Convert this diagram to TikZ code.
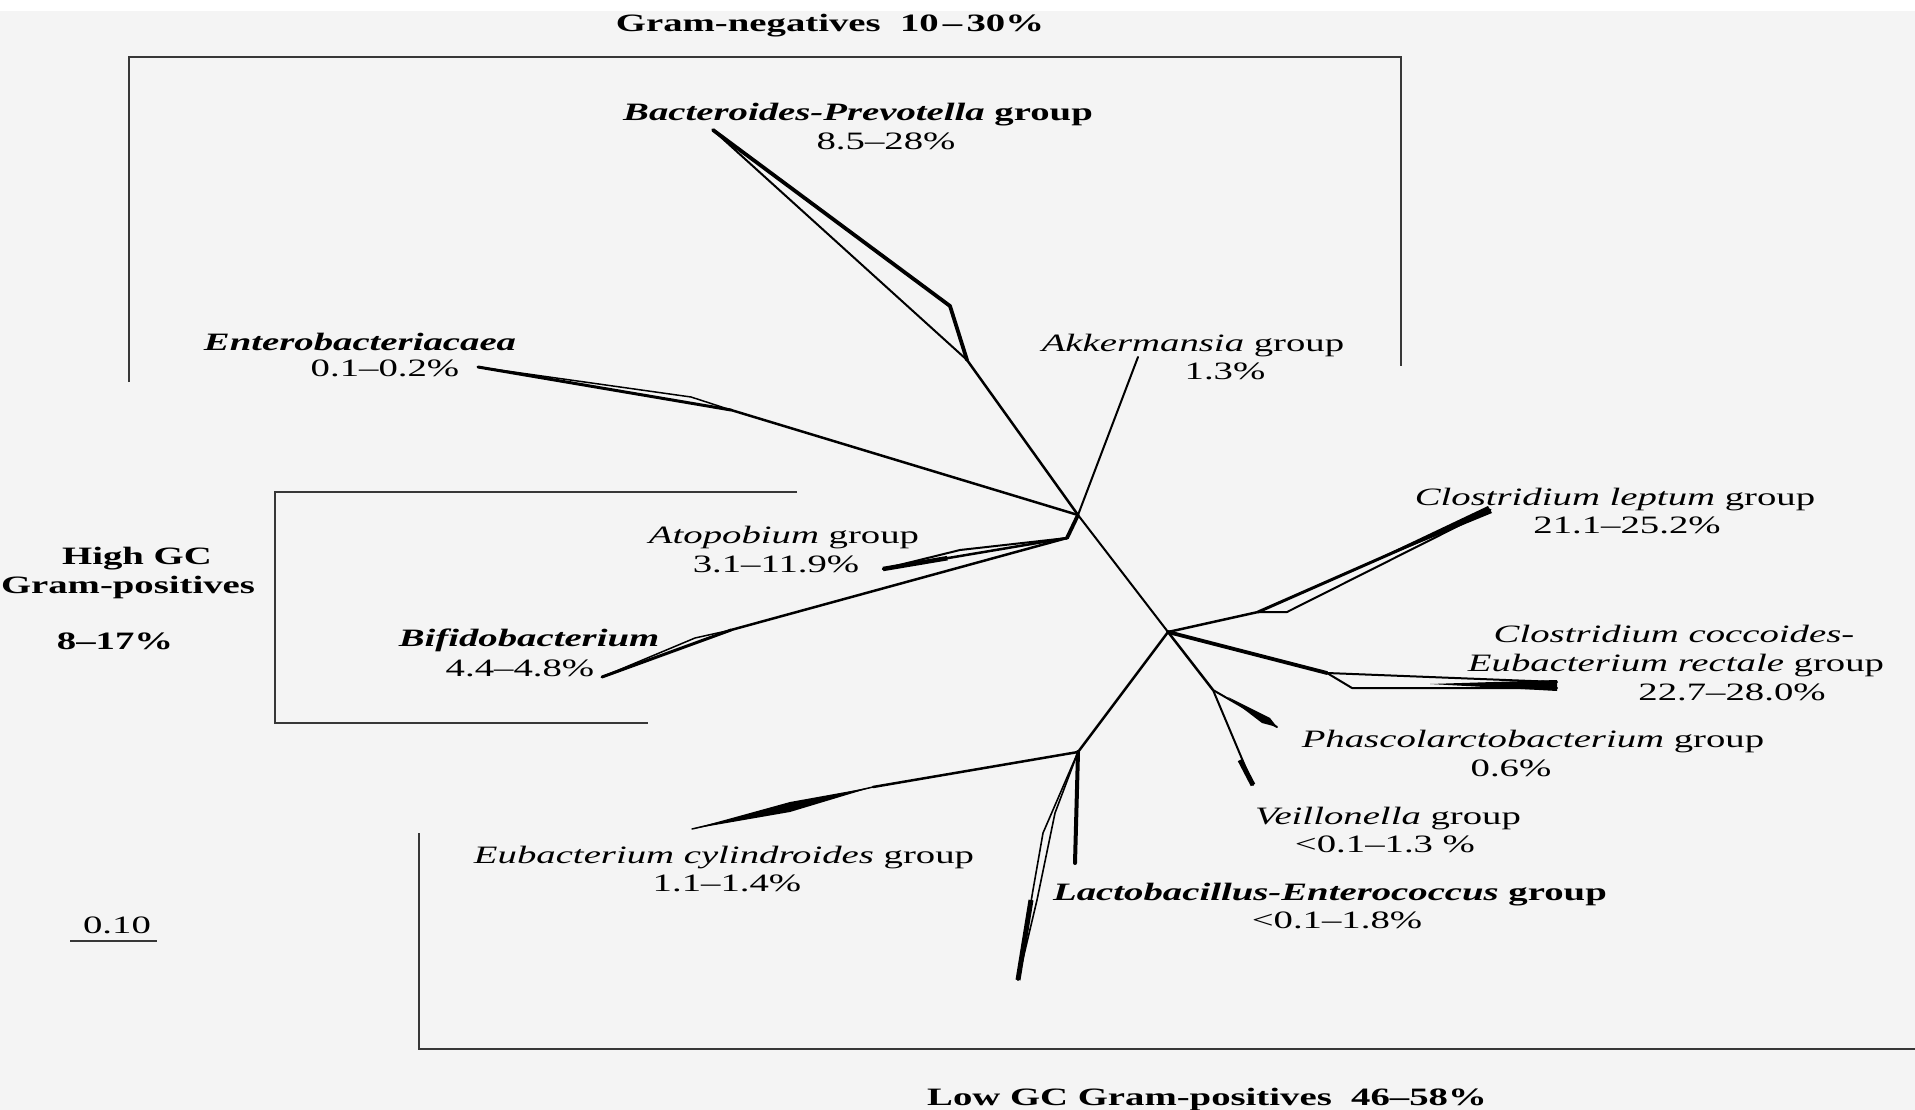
\documentclass[tikz,border=0pt]{standalone}
\usepackage{fontspec}
\setmainfont{Liberation Serif}[FakeStretch=1.55]
\usetikzlibrary{calc}
\definecolor{hgrund}{RGB}{244,244,244}
\definecolor{klammerfarbe}{RGB}{55,55,55}

\begin{document}
\begin{tikzpicture}[x=1pt,y=-1pt,
  lbl/.style={anchor=base,inner sep=0pt,font=\fontsize{25}{29}\selectfont},
  ast/.style={line width=2pt,line join=round,line cap=round},
  dick/.style={line width=3.8pt,line join=round,line cap=round},
  klammer/.style={draw=klammerfarbe,line width=2.4pt}]
  \useasboundingbox (0,0) rectangle (1915,1110);
  \fill[hgrund] (0,0) rectangle (1915,1110);
  \fill[white] (0,0) rectangle (1915,11);
  % Klammern
  \draw[klammer] (129,382) -- (129,57) -- (1401,57) -- (1401,366);
  \draw[klammer] (797,492) -- (275,492) -- (275,723) -- (648,723);
  \draw[klammer] (419,833) -- (419,1049) -- (1915,1049);
  % innere Knoten
  \coordinate (nA) at (1078,515);
  \coordinate (nB) at (1067,538);
  \coordinate (nC) at (1168,632);
  \coordinate (nD) at (1078,752);
  \coordinate (nE) at (1213,690);
  % Astspitzen
  \coordinate (bacSplit) at (967,360);
  \coordinate (bacKnick) at (950,306);
  \coordinate (bacTip) at (713,130);
  \coordinate (akkTip) at (1138,357);
  \coordinate (entKnick) at (731,410);
  \coordinate (entTip) at (478,367);
  \coordinate (atoTip) at (883,569);
  \coordinate (bifKnick) at (731,630);
  \coordinate (bifTip) at (602,677);
  \coordinate (lepKnick) at (1258,612);
  \coordinate (lepTip) at (1490,510);
  \coordinate (cocKnick) at (1327,673);
  \coordinate (cocTip) at (1557,685);
  \coordinate (phaTip) at (1277,727);
  \coordinate (veiTip) at (1253,785);
  \coordinate (eubKnick) at (873,787);
  \coordinate (eubTip) at (692,829);
  \coordinate (lacTip) at (1075,863);
  \coordinate (lacLang) at (1018,980);
  % Aeste
  \draw[ast] (nA) -- (nC);
  \draw[dick] (nA) -- (nB);
  \draw[ast,line width=2.5pt] (nA) -- (bacSplit);
  \draw[dick] (bacSplit) -- (bacKnick) -- (bacTip);
  \draw[ast] (bacSplit) -- (bacTip);
  \draw[ast] (nA) -- (akkTip);
  \draw[ast,line width=2.5pt] (nA) -- (entKnick);
  \draw[ast,line width=3pt] (entKnick) -- (entTip);
  \draw[ast,line width=1.5pt] (entKnick) -- ($(entKnick)+(-40,-13)$) -- (entTip);
  \draw[ast,line width=2.5pt] (nB) -- (atoTip);
  \draw[ast] (nB) -- (960,550) -- (atoTip);
  \draw[ast,line width=4.5pt,line cap=butt] (atoTip) -- ($(atoTip)!0.35!(nB)$);
  \draw[ast,line width=2.5pt] (nB) -- (bifKnick);
  \draw[ast,line width=3pt] (bifKnick) -- (bifTip);
  \draw[ast,line width=1.5pt] (bifKnick) -- (695,638) -- (bifTip);
  \draw[ast,line width=2.5pt] (nC) -- (lepKnick);
  \draw[ast,line width=3pt] (lepKnick) -- (lepTip);
  \draw[ast] (lepKnick) -- (1287,612) -- (lepTip);
  \fill (1351,571) -- (1492,513) -- (1488,506) -- cycle;
  \draw[dick] (nC) -- (cocKnick);
  \draw[ast] (cocKnick) -- (1557,682);
  \draw[ast] (cocKnick) -- (1352,688) -- (1557,688);
  \fill (1430,684) -- (1557,680) -- (1557,691) -- cycle;
  \draw[ast,line width=2.5pt] (nC) -- (nD);
  \draw[ast,line width=2.5pt] (nC) -- (nE);
  \draw[ast] (nE) -- (phaTip);
  \fill (1228,697) -- (1270,718) -- (phaTip) -- (1262,723) -- cycle;
  \draw[ast] (nE) -- (veiTip);
  \draw[line width=5pt] (1240,760) -- (veiTip);
  \draw[ast,line width=2.5pt] (nD) -- (eubKnick);
  \fill (eubKnick) -- (790,802) -- (eubTip) -- (790,812) -- cycle;
  \draw[ast,line width=1.5pt] (eubKnick) -- (eubTip);
  \draw[ast,line width=4pt] (nD) -- (lacTip);
  \draw[ast,line width=1.6pt] (nD) -- (1043,833) -- (1033,890) -- (lacLang);
  \draw[ast,line width=1.6pt] (nD) -- (1055,813) -- (1037,900) -- (lacLang);
  \draw[line width=5pt] (1031,900) -- (lacLang);
  % Beschriftungen
  \node[lbl] (gneg) at (830,32) {\textbf{Gram-negatives\ \ 10\,--\,30\%}};
  \node[lbl] (bac) at (858,121) {\textbf{\textit{Bacteroides-Prevotella} group}};
  \node[lbl] (bacPct) at (886,150) {8.5--28\%};
  \node[lbl] (ent) at (360,350) {\textbf{\textit{Enterobacteriacaea}}};
  \node[lbl] (entPct) at (385,376) {0.1--0.2\%};
  \node[lbl] (akk) at (1193,351) {\textit{Akkermansia} group};
  \node[lbl] (akkPct) at (1225,379) {1.3\%};
  \node[lbl] (ato) at (784,543) {\textit{Atopobium} group};
  \node[lbl] (atoPct) at (776,572) {3.1--11.9\%};
  \node[lbl] (bif) at (529,646) {\textbf{\textit{Bifidobacterium}}};
  \node[lbl] (bifPct) at (520,676) {4.4--4.8\%};
  \node[lbl] (lep) at (1615,505) {\textit{Clostridium leptum} group};
  \node[lbl] (lepPct) at (1627,533) {21.1--25.2\%};
  \node[lbl] (coc) at (1674,642) {\textit{Clostridium coccoides-}};
  \node[lbl] (cocB) at (1676,671) {\textit{Eubacterium rectale} group};
  \node[lbl] (cocPct) at (1732,700) {22.7--28.0\%};
  \node[lbl] (pha) at (1533,747) {\textit{Phascolarctobacterium} group};
  \node[lbl] (phaPct) at (1511,776) {0.6\%};
  \node[lbl] (vei) at (1388,824) {\textit{Veillonella} group};
  \node[lbl] (veiPct) at (1385,852) {<0.1--1.3 \%};
  \node[lbl] (lac) at (1330,900) {\textbf{\textit{Lactobacillus-Enterococcus} group}};
  \node[lbl] (lacPct) at (1337,928) {<0.1--1.8\%};
  \node[lbl] (eub) at (724,863) {\textit{Eubacterium cylindroides} group};
  \node[lbl] (eubPct) at (727,891) {1.1--1.4\%};
  \node[lbl] (lowgc) at (1207,1105) {\textbf{Low GC Gram-positives\ \ 46--58\%}};
  \node[lbl] (highgc) at (137,564) {\textbf{High GC}};
  \node[lbl] (highgcB) at (128,593) {\textbf{Gram-positives}};
  \node[lbl] (highgcPct) at (115,649) {\textbf{8--17\%}};
  % Massstab
  \node[lbl] (skala) at (117,933) {0.10};
  \draw[klammer] (70,941) -- (157,941);
\end{tikzpicture}
\end{document}
